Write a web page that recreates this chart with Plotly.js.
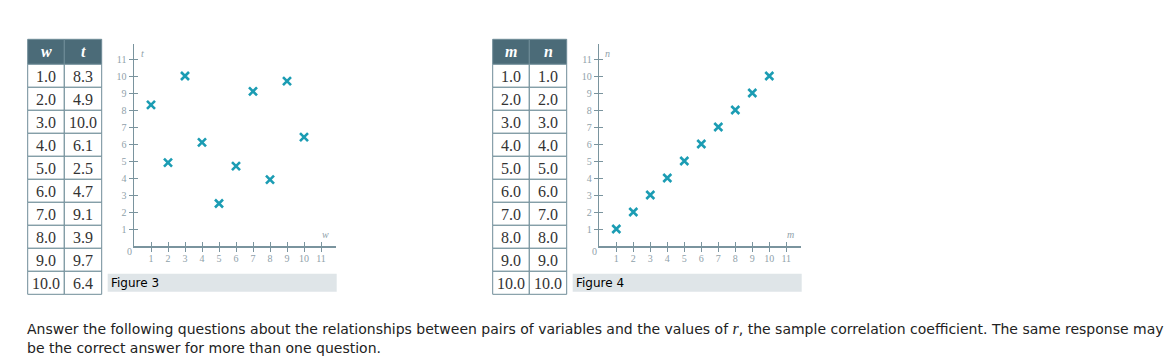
<!DOCTYPE html>
<html>
<head>
<meta charset="utf-8">
<script src="https://cdn.plot.ly/plotly-3.0.1.min.js"></script>
<style>html,body{margin:0;padding:0;background:#fff;}#chart{width:1169px;height:359px;}</style>
</head>
<body>
<div id="chart"></div>
<script>
// ---- data ----
const w = [1.0, 2.0, 3.0, 4.0, 5.0, 6.0, 7.0, 8.0, 9.0, 10.0];
const t = [8.3, 4.9, 10.0, 6.1, 2.5, 4.7, 9.1, 3.9, 9.7, 6.4];
const m = [1.0, 2.0, 3.0, 4.0, 5.0, 6.0, 7.0, 8.0, 9.0, 10.0];
const n = [1.0, 2.0, 3.0, 4.0, 5.0, 6.0, 7.0, 8.0, 9.0, 10.0];
const tickValues = [1, 2, 3, 4, 5, 6, 7, 8, 9, 10, 11];
const tickLabels = ['1', '2', '3', '4', '5', '6', '7', '8', '9', '10', '11'];
const figureCaptions = ['Figure 3', 'Figure 4'];
const questionLines = [
  'Answer the following questions about the relationships between pairs of variables and the values of <span style="font-family:\'Liberation Serif\',serif;font-size:16px"><i>r</i></span>, the sample correlation coefficient. The same response may',
  'be the correct answer for more than one question.'
];

// ---- styles ----
const W = 1169, H = 359;
const px = v => v / W;
const py = v => 1 - v / H;
const teal = '#1b9cb3';
const axisCol = '#7a949e';
const tickLblCol = '#8fa1aa';
const headerCol = '#4b6b78';
const borderCol = '#6f8c98';
const serif = "'Liberation Serif', 'DejaVu Serif', serif";
const sans = "'DejaVu Sans', Verdana, sans-serif";
const fmt = v => v.toFixed(1);

const shapes = [];
const annotations = [];

// ---- tables (drawn from the arrays) ----
const tblTop = 39.3, headH = 25, rowH = 23;
function buildTable(a, b, la, lb, xl, xm, xr) {
  const cols = [[xl, xm, la, a], [xm, xr, lb, b]];
  cols.forEach(([x0, x1, label, vals]) => {
    shapes.push({type: 'rect', xref: 'paper', yref: 'paper', x0: px(x0), x1: px(x1),
      y0: py(tblTop + headH), y1: py(tblTop), fillcolor: headerCol, line: {color: borderCol, width: 1}});
    annotations.push({xref: 'paper', yref: 'paper', x: px((x0 + x1) / 2), y: py(tblTop + headH / 2),
      xanchor: 'center', yanchor: 'middle', showarrow: false,
      text: '<b><i>' + label + '</i></b>', font: {family: serif, size: 16, color: '#ffffff'}});
    vals.forEach((v, i) => {
      const top = tblTop + headH + i * rowH;
      shapes.push({type: 'rect', xref: 'paper', yref: 'paper', x0: px(x0), x1: px(x1),
        y0: py(top + rowH), y1: py(top), fillcolor: '#ffffff', line: {color: borderCol, width: 1}});
      annotations.push({xref: 'paper', yref: 'paper', x: px((x0 + x1) / 2), y: py(top + rowH / 2 + 0.5),
        xanchor: 'center', yanchor: 'middle', showarrow: false,
        text: fmt(v), font: {family: serif, size: 16, color: '#333333'}});
    });
  });
}
buildTable(w, t, 'w', 't', 27.7, 64.3, 101.7);
buildTable(m, n, 'm', 'n', 492.7, 529.3, 566.7);

// ---- axes ----
const yTop = 44, yBot = 246, unit = 17;
const rangeMax = (yBot - yTop) / unit;

function axisDef(domain, anchor, ticks, labels, overlay, standoff) {
  const a = {
    domain: domain,
    anchor: anchor,
    range: [0, rangeMax],
    tickmode: 'array',
    tickvals: tickValues,
    ticktext: tickLabels,
    ticks: ticks,
    ticklen: 4,
    tickwidth: 1,
    tickcolor: axisCol,
    showline: true,
    linecolor: axisCol,
    linewidth: 1.5,
    showgrid: false,
    zeroline: false,
    showticklabels: labels,
    tickfont: {family: serif, size: 10, color: tickLblCol},
    fixedrange: true
  };
  if (standoff !== undefined) a.ticklabelstandoff = standoff;
  if (overlay) a.overlaying = overlay;
  return a;
}

const p1x0 = 134, p2x0 = 599.3;
const plotW = rangeMax * unit;
const yDom = [py(yBot), py(yTop)];

function scatter(x, y, xa, ya) {
  return {
    type: 'scatter', mode: 'markers', x: x, y: y, xaxis: xa, yaxis: ya,
    marker: {symbol: 'x-thin-open', size: 8, color: teal, line: {color: teal, width: 2.6}},
    cliponaxis: false, hoverinfo: 'skip'
  };
}

const data = [
  scatter(w, t, 'x', 'y'),
  scatter(m, n, 'x2', 'y2'),
  {type: 'scatter', x: [], y: [], xaxis: 'x3', yaxis: 'y3', hoverinfo: 'skip'},
  {type: 'scatter', x: [], y: [], xaxis: 'x4', yaxis: 'y4', hoverinfo: 'skip'}
];

const d1 = [px(p1x0), px(p1x0 + plotW)];
const d2 = [px(p2x0), px(p2x0 + plotW)];

// axis letters and origin labels
[[p1x0, 'x', 'y', 't', 'w'], [p2x0, 'x2', 'y2', 'n', 'm']].forEach(([x0, xa, ya, yl, xl]) => {
  annotations.push({xref: xa, yref: ya, x: 0.5, y: 11.35, text: '<i>' + yl + '</i>', showarrow: false, font: {family: serif, size: 10, color: tickLblCol}});
  annotations.push({xref: xa, yref: ya, x: 11.25, y: 0.65, text: '<i>' + xl + '</i>', showarrow: false, font: {family: serif, size: 10, color: tickLblCol}});
  annotations.push({xref: 'paper', yref: 'paper', x: px(x0 - 5), y: py(252), xanchor: 'center', yanchor: 'middle', text: '0', showarrow: false, font: {family: serif, size: 10, color: tickLblCol}});
});

// caption boxes
[[107.7, 336.7, figureCaptions[0]], [572.7, 801.7, figureCaptions[1]]].forEach(([x0, x1, txt]) => {
  shapes.push({type: 'rect', xref: 'paper', yref: 'paper', x0: px(x0), x1: px(x1), y0: py(291.7), y1: py(273.7), fillcolor: '#dfe5e8', line: {width: 0}, layer: 'below'});
  annotations.push({xref: 'paper', yref: 'paper', x: px(x0 + 1.5), y: py(282.5), xanchor: 'left', yanchor: 'middle', text: txt, showarrow: false, font: {family: sans, size: 12, color: '#000000'}});
});

// question text
questionLines.forEach((line, i) => {
  annotations.push({xref: 'paper', yref: 'paper', x: px(25), y: py(328 + i * 20), xanchor: 'left', yanchor: 'middle', align: 'left', text: line, showarrow: false, font: {family: sans, size: 14, color: '#222222'}});
});

const layout = {
  width: W, height: H,
  margin: {l: 0, r: 0, t: 0, b: 0},
  paper_bgcolor: '#ffffff', plot_bgcolor: 'rgba(0,0,0,0)',
  showlegend: false,
  xaxis: axisDef(d1, 'y', 'outside', true, undefined, -2),
  yaxis: axisDef(yDom, 'x', 'outside', true),
  xaxis2: axisDef(d2, 'y2', 'outside', true, undefined, -2),
  yaxis2: axisDef(yDom, 'x2', 'outside', true),
  xaxis3: axisDef(d1, 'y3', 'inside', false, 'x'),
  yaxis3: axisDef(yDom, 'x3', 'inside', false, 'y'),
  xaxis4: axisDef(d2, 'y4', 'inside', false, 'x2'),
  yaxis4: axisDef(yDom, 'x4', 'inside', false, 'y2'),
  shapes: shapes,
  annotations: annotations
};

Plotly.newPlot('chart', data, layout, {displayModeBar: false, staticPlot: true});
</script>
</body>
</html>
